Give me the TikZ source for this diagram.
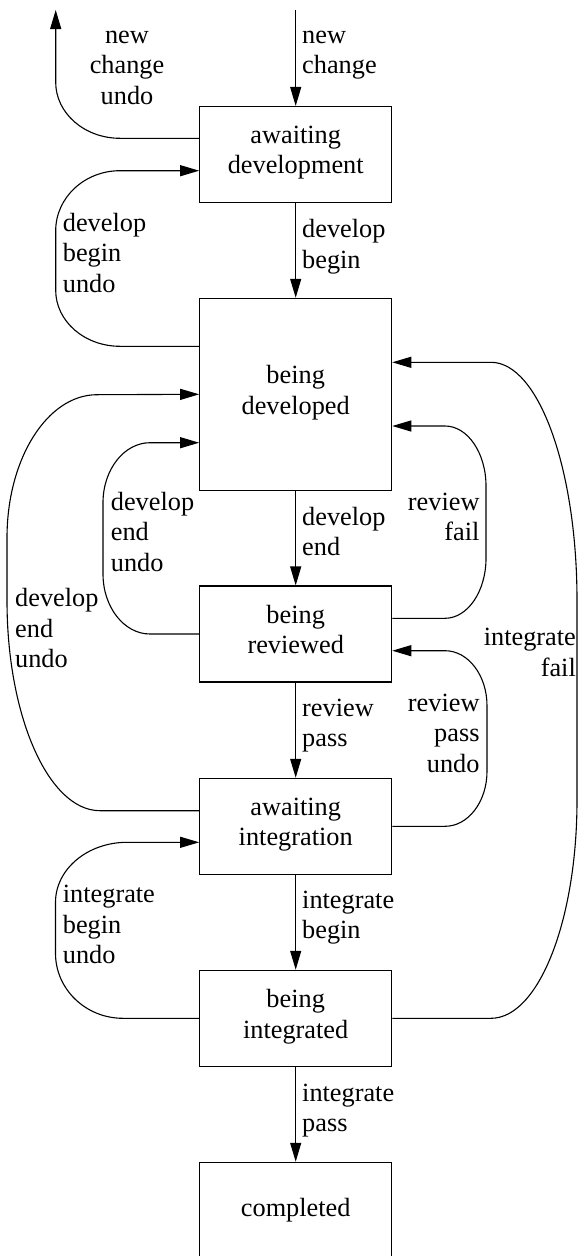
\documentclass[tikz,border=0pt]{standalone}
\usepackage{fontspec}
\setmainfont{Liberation Serif}
\usetikzlibrary{arrows.meta}
\newcommand\lblfont{\fontsize{26.3pt}{30.5pt}\selectfont}
\begin{document}
\begin{tikzpicture}[x=1pt,y=-1pt,
  stbox/.style={draw, line width=1.1pt, minimum width=192pt, minimum height=96pt, inner sep=0pt, align=center, font=\lblfont, execute at begin node=\strut, execute at end node=\strut},
  elbl/.style={inner sep=0pt, font=\lblfont, execute at begin node=\strut, execute at end node=\strut},
  conn/.style={draw, line width=1.1pt, -{Triangle[length=19pt,width=11pt]}}
]
\useasboundingbox (0,0) rectangle (578,1256);

% states
\node[stbox] (b1) at (295.7,154.5) {awaiting\\development};
\node[stbox, minimum height=192pt] (b2) at (295.7,394.3) {being\\developed};
\node[stbox] (b3) at (295.7,634) {being\\reviewed};
\node[stbox] (b4) at (295.7,826.3) {awaiting\\integration};
\node[stbox] (b5) at (295.7,1018.3) {being\\integrated};
\node[stbox] (b6) at (295.7,1210.3) {completed};

\coordinate (nc) at (295.7,10);
\coordinate (ncu) at (55.7,10);

% forward transitions
\draw[conn] (nc) -- (b1.north);
\draw[conn] (b1.south) -- (b2.north);
\draw[conn] (b2.south) -- (b3.north);
\draw[conn] (b3.south) -- (b4.north);
\draw[conn] (b4.south) -- (b5.north);
\draw[conn] (b5.south) -- (b6.north);

% new change undo
\draw[conn] ([yshift=16.2pt]b1.west) -- (120,138.3) .. controls (84.5,138.3) and (55.7,113.2) .. (55.7,82.3) -- (ncu);

% develop begin undo
\draw[conn] ([yshift=48pt]b2.west) -- (120,346.3) .. controls (84.5,346.3) and (55.7,321.2) .. (55.7,290.3)
  -- (55.7,230.7) .. controls (55.7,197.6) and (84.5,170.7) .. (120,170.7) -- ([yshift=-16.2pt]b1.west);

% develop end undo (inner)
\draw[conn] (b3.west) -- (150,634) .. controls (124.1,634) and (103,607.1) .. (103,574)
  -- (103,502.7) .. controls (103,469.6) and (124.1,442.7) .. (150,442.7) -- ([yshift=-48.4pt]b2.west);

% develop end undo (outer)
\draw[conn] ([yshift=15.6pt]b4.west) -- (100,810.7) .. controls (48.7,810.7) and (7,716.6) .. (7,600.7)
  -- (7,537.7) .. controls (7,458.8) and (47.3,394.7) .. (97,394.7) -- (b2.west);

% integrate begin undo
\draw[conn] (b5.west) -- (123,1018.3) .. controls (85.7,1018.3) and (55.5,989.2) .. (55.5,953.3)
  -- (55.5,902.3) .. controls (55.5,869.2) and (87.5,842.3) .. (127,842.3) -- ([yshift=-16pt]b4.west);

% review fail
\draw[conn] ([yshift=15.7pt]b3.east) -- (445,618.3) .. controls (467.6,618.3) and (486,591.4) .. (486,558.3)
  -- (486,486) .. controls (486,452.9) and (467.6,426) .. (445,426) -- ([yshift=-31.7pt]b2.east);

% review pass undo
\draw[conn] (b4.east) -- (445,826.3) .. controls (468.2,826.3) and (487,801.7) .. (487,771.3)
  -- (487,705.7) .. controls (487,675.3) and (468.2,650.7) .. (445,650.7) -- ([yshift=-16.7pt]b3.east);

% integrate fail
\draw[conn] (b5.east) -- (491,1018.3) .. controls (538.5,1018.3) and (577,920.6) .. (577,800.3)
  -- (577,600.3) .. controls (577,468.9) and (538.5,362.3) .. (491,362.3) -- ([yshift=32pt]b2.east);

% labels
\node[elbl, anchor=west, align=left] (l1) at (302,56.7) {new\\change};
\node[elbl, align=center] (l2) at (127,72.3) {new\\change\\undo};
\node[elbl, anchor=west, align=left] (l3) at (62.7,257) {develop\\begin\\undo};
\node[elbl, anchor=west, align=left] (l4) at (302,248.3) {develop\\begin};
\node[elbl, anchor=west, align=left] (l5) at (302,535.7) {develop\\end};
\node[elbl, anchor=west, align=left] (l6) at (110.7,536) {develop\\end\\undo};
\node[elbl, anchor=west, align=left] (l7) at (15,632.5) {develop\\end\\undo};
\node[elbl, anchor=east, align=right] (l8) at (479.7,521.3) {review\\fail};
\node[elbl, anchor=west, align=left] (l9) at (302,727.5) {review\\pass};
\node[elbl, anchor=east, align=right] (l10) at (479.7,737.6) {review\\pass\\undo};
\node[elbl, anchor=east, align=right] (l11) at (576,656.7) {integrate\\fail};
\node[elbl, anchor=west, align=left] (l12) at (302,919.5) {integrate\\begin};
\node[elbl, anchor=west, align=left] (l13) at (62.7,929) {integrate\\begin\\undo};
\node[elbl, anchor=west, align=left] (l14) at (302,1112.5) {integrate\\pass};
\end{tikzpicture}
\end{document}
